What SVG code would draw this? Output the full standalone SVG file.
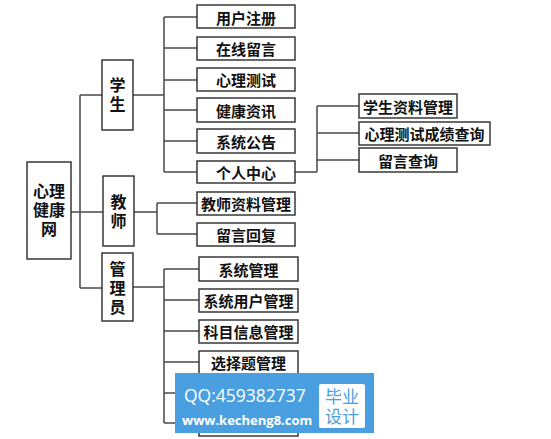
<svg xmlns="http://www.w3.org/2000/svg" width="551" height="439" viewBox="0 0 551 439">
<style>
.bx{fill:#fff;stroke:#2a2a2a;stroke-width:1.4}
.ln{fill:none;stroke:#4a4a4a;stroke-width:1.5}
.t{font-family:"Noto Sans CJK SC","Liberation Serif",serif;font-size:15px;font-weight:700;fill:#111;text-anchor:middle;dominant-baseline:central}
.v{font-family:"Noto Sans CJK SC","Liberation Serif",serif;font-size:16px;font-weight:700;fill:#111;text-anchor:middle}
.vv{font-family:"Noto Sans CJK SC","Liberation Serif",serif;font-size:16px;font-weight:700;fill:#111;text-anchor:middle;writing-mode:vertical-rl;letter-spacing:3px}
</style>
<rect width="551" height="439" fill="#fff"/>
<g id="connectors">
<path class="ln" d="M71 212H103 M80 95V288 M80 95H102 M80 288H102"/>
<path class="ln" d="M133 95H164 M164 17V172 M164 17H197 M164 48H197 M164 80H197 M164 110H197 M164 141H197 M164 172H197"/>
<path class="ln" d="M295 172H317 M317 106V172 M317 106H359 M317 133H359 M317 160H359"/>
<path class="ln" d="M134 212H157 M157 203V234 M157 203H197 M157 234H197"/>
<path class="ln" d="M133 287H164 M164 269V423 M164 269H199 M164 300H199 M164 331H199 M164 362H199 M164 393H199 M164 423H199"/>
</g>
<g id="root"><rect class="bx" x="27" y="162" width="44" height="97"/><text class="v" x="49" y="197"><tspan x="49">心理</tspan><tspan x="49" dy="19">健康</tspan><tspan x="49" dy="19">网</tspan></text></g>
<g id="student"><rect class="bx" x="102" y="60" width="31" height="70"/><text class="vv" x="117.5" y="96">学生</text></g>
<g id="teacher"><rect class="bx" x="103" y="176" width="31" height="70"/><text class="vv" x="118.5" y="213">教师</text></g>
<g id="admin"><rect class="bx" x="102" y="253" width="31" height="68"/><text class="vv" x="117.5" y="289">管理员</text></g>
<g id="s1"><rect class="bx" x="197" y="5" width="98" height="23"/><text class="t" x="246" y="17">用户注册</text></g>
<g id="s2"><rect class="bx" x="197" y="37" width="98" height="23"/><text class="t" x="246" y="48.5">在线留言</text></g>
<g id="s3"><rect class="bx" x="197" y="68" width="98" height="23"/><text class="t" x="246" y="79.5">心理测试</text></g>
<g id="s4"><rect class="bx" x="197" y="98" width="98" height="24"/><text class="t" x="246" y="110">健康资讯</text></g>
<g id="s5"><rect class="bx" x="197" y="129" width="98" height="24"/><text class="t" x="246" y="141">系统公告</text></g>
<g id="s6"><rect class="bx" x="197" y="161" width="98" height="22"/><text class="t" x="246" y="172">个人中心</text></g>
<g id="p1"><rect class="bx" x="359" y="94" width="98" height="24"/><text class="t" x="408" y="106">学生资料管理</text></g>
<g id="p2"><rect class="bx" x="359" y="122" width="131" height="23"/><text class="t" x="424.5" y="133.5">心理测试成绩查询</text></g>
<g id="p3"><rect class="bx" x="359" y="148" width="98" height="24"/><text class="t" x="408" y="160">留言查询</text></g>
<g id="t1"><rect class="bx" x="197" y="192" width="98" height="23"/><text class="t" x="246" y="203.5">教师资料管理</text></g>
<g id="t2"><rect class="bx" x="197" y="223" width="98" height="23"/><text class="t" x="246" y="234.5">留言回复</text></g>
<g id="a1"><rect class="bx" x="199" y="257" width="99" height="24"/><text class="t" x="248.5" y="269">系统管理</text></g>
<g id="a2"><rect class="bx" x="199" y="289" width="99" height="23"/><text class="t" x="248.5" y="300.5">系统用户管理</text></g>
<g id="a3"><rect class="bx" x="199" y="320" width="99" height="23"/><text class="t" x="248.5" y="331.5">科目信息管理</text></g>
<g id="a4"><rect class="bx" x="199" y="351" width="99" height="23"/><text class="t" x="248.5" y="362.5">选择题管理</text></g>
<g id="a5"><rect class="bx" x="199" y="382" width="99" height="23"/></g>
<g id="a6"><rect class="bx" x="199" y="412" width="99" height="24"/></g>
<g id="watermark">
<rect x="175" y="373" width="199" height="60" fill="#4a9fe0"/>
<text x="184" y="402" font-family="'Open Sans','DejaVu Sans',sans-serif" font-size="17.5" fill="#fff">QQ:459382737</text>
<text x="182" y="425" font-family="'Open Sans','DejaVu Sans',sans-serif" font-size="13" font-weight="700" fill="#fff">www.kecheng8.com</text>
<rect x="319" y="384" width="46" height="44" rx="2" fill="#fff"/>
<text x="342" y="403" font-family="'Noto Sans CJK SC',sans-serif" font-size="17" fill="#4a9fe0" text-anchor="middle"><tspan x="342">毕业</tspan><tspan x="342" dy="20">设计</tspan></text>
</g>
</svg>
